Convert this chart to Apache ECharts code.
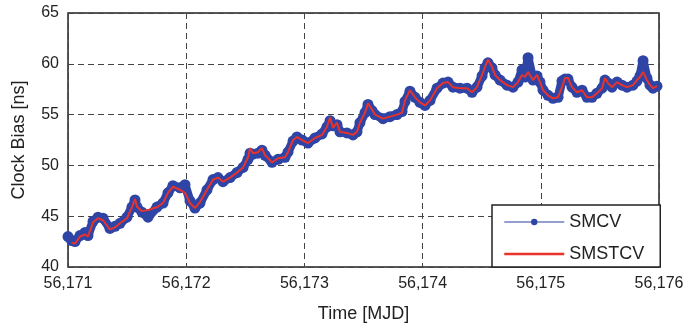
<!DOCTYPE html>
<html>
<head>
<meta charset="utf-8">
<script src="https://cdn.jsdelivr.net/npm/echarts@6/dist/echarts.min.js"></script>
<style>
  html, body { margin: 0; padding: 0; background: #fff; }
  #chart { width: 689px; height: 328px; }
</style>
</head>
<body>
<div id="chart"></div>
<script>
// offsets in days from MJD 56171
const dayOffset = [
  0.000, 0.031, 0.059, 0.102, 0.144, 0.169, 0.212, 0.254, 0.296, 0.355,
  0.398, 0.440, 0.499, 0.541, 0.567, 0.584, 0.626, 0.677, 0.753, 0.804,
  0.846, 0.888, 0.948, 0.990, 1.032, 1.074, 1.117, 1.176, 1.227, 1.269,
  1.311, 1.371, 1.430, 1.481, 1.523, 1.540, 1.565, 1.607, 1.641, 1.667,
  1.726, 1.777, 1.836, 1.861, 1.904, 1.937, 1.980, 2.030, 2.090, 2.149,
  2.191, 2.217, 2.242, 2.276, 2.301, 2.360, 2.411, 2.445, 2.470, 2.513,
  2.538, 2.572, 2.597, 2.665, 2.724, 2.783, 2.826, 2.851, 2.893, 2.936,
  2.978, 3.020, 3.063, 3.122, 3.173, 3.215, 3.257, 3.316, 3.376, 3.418,
  3.460, 3.503, 3.528, 3.553, 3.587, 3.613, 3.655, 3.714, 3.765, 3.807,
  3.841, 3.866, 3.892, 3.934, 3.968, 3.993, 4.019, 4.061, 4.103, 4.146,
  4.179, 4.205, 4.230, 4.264, 4.306, 4.349, 4.391, 4.433, 4.475, 4.518,
  4.543, 4.569, 4.602, 4.645, 4.687, 4.729, 4.780, 4.814, 4.839, 4.865,
  4.898, 4.924, 4.949, 4.983
];

const smcv = [
  43.0, 42.6, 42.5, 43.1, 43.4, 43.1, 44.5, 44.9, 44.8, 43.8,
  44.0, 44.3, 44.9, 45.9, 46.6, 45.9, 45.4, 44.9, 45.9, 46.3,
  47.3, 48.0, 47.8, 48.1, 46.5, 45.8, 46.3, 47.6, 48.6, 48.8,
  48.4, 48.8, 49.3, 49.8, 50.6, 51.2, 51.1, 51.2, 51.5, 51.0,
  50.3, 50.6, 50.8, 51.3, 52.4, 52.8, 52.5, 52.2, 52.7, 53.1,
  53.8, 54.4, 53.9, 54.0, 53.3, 53.2, 53.0, 53.3, 54.2, 55.2,
  56.0, 55.4, 55.0, 54.6, 54.8, 55.0, 55.3, 56.3, 57.3, 56.7,
  56.2, 55.9, 56.4, 57.6, 58.1, 58.2, 57.7, 57.6, 57.6, 57.2,
  57.7, 58.8, 59.6, 60.1, 59.6, 58.9, 58.4, 57.9, 57.7, 58.2,
  59.4, 58.7, 60.6, 58.4, 58.8, 58.2, 57.4, 56.9, 56.6, 56.7,
  58.3, 58.5, 58.5, 57.7, 57.2, 57.4, 56.7, 56.7, 57.1, 57.6,
  58.4, 58.1, 57.7, 58.2, 57.9, 57.7, 57.9, 58.3, 58.8, 60.3,
  58.6, 57.9, 57.6, 57.8
];

const smstcv = [
  null, 42.4, 42.3, 43.0, 43.2, 43.0, 44.4, 44.8, 44.6, 43.7,
  43.9, 44.3, 44.8, 45.9, 46.7, 45.9, 45.5, 45.6, 45.9, 46.3,
  47.3, 47.9, 47.6, 47.3, 46.3, 45.8, 46.4, 47.6, 48.6, 48.8,
  48.4, 48.8, 49.3, 49.8, 50.8, 51.7, 51.2, 51.3, 51.7, 51.0,
  50.3, 50.7, 50.8, 51.3, 52.5, 52.8, 52.5, 52.2, 52.7, 53.0,
  53.8, 54.7, 53.7, 54.2, 53.3, 53.2, 53.0, 53.3, 54.2, 55.2,
  56.1, 55.5, 55.0, 54.6, 54.8, 55.0, 55.2, 56.4, 57.4, 56.7,
  56.2, 55.9, 56.4, 57.6, 58.1, 58.2, 57.7, 57.6, 57.6, 57.2,
  57.7, 58.9, 59.7, 60.4, 59.7, 58.9, 58.4, 57.9, 57.7, 58.2,
  58.9, 58.7, 59.2, 58.4, 58.9, 58.2, 57.4, 56.9, 56.6, 56.7,
  57.7, 58.6, 58.6, 57.7, 57.2, 57.4, 56.7, 56.7, 57.1, 57.6,
  58.6, 58.1, 57.7, 58.2, 57.9, 57.7, 57.9, 58.4, 58.7, 59.2,
  58.4, 57.9, 57.6, 57.8
];

const startMjd = 56171;
const xTicks = [56171, 56172, 56173, 56174, 56175, 56176];
const yTicks = [40, 45, 50, 55, 60, 65];

const blue = '#2f45a6';
const red = '#e8322b';
const font = 'Liberation Sans, Arial, Helvetica, sans-serif';

const chart = echarts.init(document.getElementById('chart'));

const option = {
  animation: false,
  backgroundColor: '#fff',
  textStyle: { fontFamily: font },
  grid: {
    left: 68,
    right: 30,
    top: 13,
    bottom: 61,
    show: true,
    borderColor: '#222',
    borderWidth: 1.5,
    backgroundColor: 'transparent'
  },
  legend: {
    orient: 'vertical',
    left: 492,
    top: 205,
    padding: [8, 16, 4, 11],
    itemGap: 14,
    itemWidth: 60,
    itemHeight: 8,
    backgroundColor: '#fff',
    borderColor: '#222',
    borderWidth: 1.5,
    textStyle: { fontFamily: font, fontSize: 18, color: '#222' },
    data: [
      { name: 'SMCV', lineStyle: { width: 1.2, color: '#2a3ea0' } },
      { name: 'SMSTCV', lineStyle: { width: 2.5 }, itemStyle: { opacity: 0 } }
    ]
  },
  xAxis: {
    type: 'value',
    min: xTicks[0],
    max: xTicks[xTicks.length - 1],
    interval: 1,
    name: 'Time [MJD]',
    nameLocation: 'middle',
    nameGap: 38,
    nameTextStyle: { fontFamily: font, fontSize: 18, color: '#222' },
    axisLine: { show: false },
    axisTick: { show: false },
    axisLabel: {
      color: '#222',
      fontSize: 16,
      fontFamily: font,
      margin: 9,
      formatter: v => v.toLocaleString('en-US')
    },
    splitLine: { show: true, lineStyle: { color: '#444', type: [6, 4], width: 1 } }
  },
  yAxis: {
    type: 'value',
    min: yTicks[0],
    max: yTicks[yTicks.length - 1],
    interval: 5,
    name: 'Clock Bias [ns]',
    nameLocation: 'middle',
    nameGap: 40,
    nameTextStyle: { fontFamily: font, fontSize: 18, color: '#222' },
    axisLine: { show: false },
    axisTick: { show: false },
    axisLabel: { color: '#222', fontSize: 16, fontFamily: font, margin: 9 },
    splitLine: { show: true, lineStyle: { color: '#444', type: [6, 4], width: 1 } }
  },
  series: [
    {
      name: 'SMCV',
      type: 'line',
      data: dayOffset.map((d, i) => [startMjd + d, smcv[i]]),
      symbol: 'circle',
      symbolSize: 11,
      showAllSymbol: true,
      color: blue,
      itemStyle: { color: blue },
      lineStyle: { color: blue, width: 9 },
      z: 2
    },
    {
      name: 'SMSTCV',
      type: 'line',
      data: dayOffset.map((d, i) => [startMjd + d, smstcv[i]]),
      symbol: 'none',
      color: red,
      lineStyle: { color: red, width: 2 },
      z: 3
    }
  ]
};

chart.setOption(option);
</script>
</body>
</html>
